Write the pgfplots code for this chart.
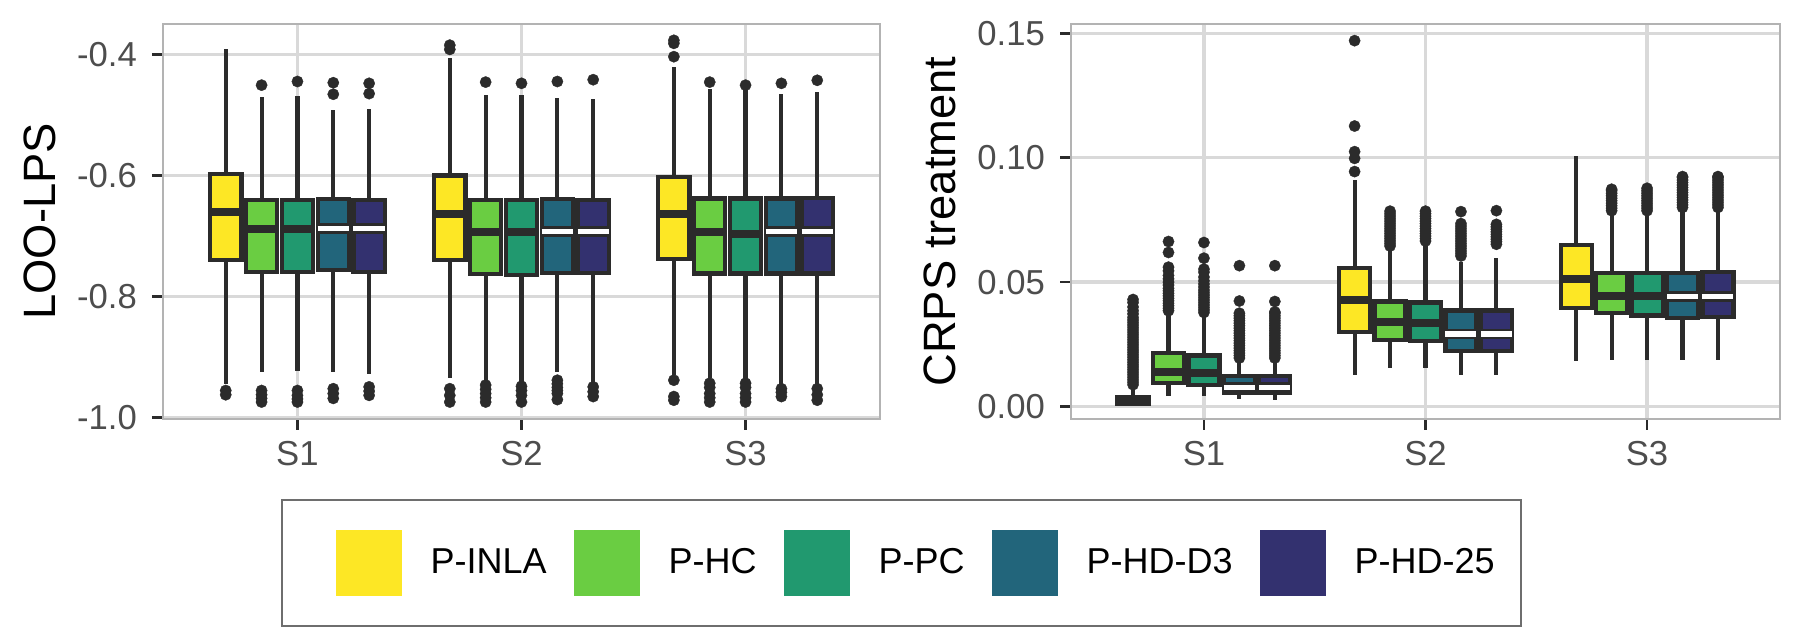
\documentclass[border=0pt]{standalone}
\usepackage{fontspec}
\setmainfont{Liberation Sans}
\usepackage{pgfplots}
\pgfplotsset{compat=1.18}
\usepgfplotslibrary{statistics}
\definecolor{cY}{HTML}{FDE725}
\definecolor{cG}{HTML}{6ACD42}
\definecolor{cT}{HTML}{21996F}
\definecolor{cB}{HTML}{22657B}
\definecolor{cP}{HTML}{33316F}
\definecolor{dk}{HTML}{2B2B2B}
\definecolor{grd}{HTML}{D9D9D9}
\definecolor{brd}{HTML}{B3B3B3}
\definecolor{tk}{HTML}{4D4D4D}
\definecolor{lg}{HTML}{6E6E6E}
\pgfplotsset{
  /pgf/number format/assume math mode=true,
  common/.style={scale only axis, anchor=south west, height=118.5pt,
    xmin=0.4, xmax=3.6, xtick={1,2,3}, xticklabels={S1,S2,S3},
    tick pos=left, tick align=outside, major tick length=3.3pt,
    grid=major, major grid style={draw=grd, line width=1pt},
    axis line style={draw=brd, line width=0.7pt},
    tick style={draw=dk, line width=0.8pt},
    tick label style={font=\fontsize{10.4}{12}\selectfont, text=tk},
    label style={font=\fontsize{13.6}{16}\selectfont, text=black},
    yticklabel style={xshift=-1pt}},
  bxs/.style={boxplot/draw direction=y, draw=dk, line width=1.25pt,
    mark=*, mark size=1.7pt, mark options={fill=dk, draw=dk, line width=0.1pt},
    boxplot/whisker extend=0, boxplot/box extend=0.14, forget plot,
    boxplot/every box/.style={fill=#1},
    boxplot/every median/.style={draw=dk, line width=2.4pt}},
  bxw/.style={bxs=#1,
    boxplot/every median/.style={draw=dk, double=white, double distance=1.6pt, line width=0.8pt}},
}
% #1 style, #2 position, #3 lower whisker, #4 lower quartile, #5 median, #6 upper quartile, #7 upper whisker, #8 outliers
\newcommand{\bx}[8]{%
  \addplot[#1, boxplot prepared={draw position=#2, lower whisker=#3, lower quartile=#4, median=#5, upper quartile=#6, upper whisker=#7}] table[row sep=\\, y index=0] {y\\ #8};
}
\begin{document}
\begin{tikzpicture}
\path[use as bounding box] (0,0) rectangle (540pt,189pt);
\begin{axis}[common, at={(48.9pt,63.3pt)}, width=215.1pt,
  ymin=-1.002, ymax=-0.350, ytick={-1,-0.8,-0.6,-0.4},
  yticklabel={\pgfmathprintnumber[fixed,fixed zerofill,precision=1]{\tick}},
  ylabel={LOO-LPS}, ylabel style={at={(axis description cs:-0.172,0.5)}, anchor=center},
  legend style={at={(1.0302,-0.3654)}, anchor=center, legend columns=5, draw=lg, line width=0.6pt,
    inner xsep=8pt, inner ysep=9pt, font=\fontsize{10.8}{13}\selectfont,
    nodes={inner xsep=0pt, inner ysep=0pt}, column sep=0pt},
  legend image code/.code={\path (-8pt,0) (28pt,0); \fill[#1, draw=none] (0pt,-9.9pt) rectangle (19.8pt,9.9pt);}
]
\addlegendimage{fill=cY}\addlegendentry{P-INLA}
\addlegendimage{fill=cG}\addlegendentry{P-HC}
\addlegendimage{fill=cT}\addlegendentry{P-PC}
\addlegendimage{fill=cB}\addlegendentry{P-HD-D3}
\addlegendimage{fill=cP}\addlegendentry{P-HD-25}
% S1
\bx{bxs=cY}{0.68}{-0.945}{-0.740}{-0.661}{-0.597}{-0.392}{-0.955\\ -0.962\\}
\bx{bxs=cG}{0.84}{-0.924}{-0.759}{-0.689}{-0.640}{-0.471}{-0.451\\ -0.955\\ -0.962\\ -0.968\\ -0.974\\}
\bx{bxs=cT}{1.00}{-0.923}{-0.760}{-0.689}{-0.641}{-0.469}{-0.445\\ -0.955\\ -0.963\\ -0.969\\ -0.974\\}
\bx{bxw=cB}{1.16}{-0.924}{-0.756}{-0.688}{-0.639}{-0.492}{-0.447\\ -0.466\\ -0.952\\ -0.960\\ -0.968\\}
\bx{bxw=cP}{1.32}{-0.927}{-0.759}{-0.688}{-0.640}{-0.490}{-0.448\\ -0.465\\ -0.949\\ -0.956\\ -0.963\\}
% S2
\bx{bxs=cY}{1.68}{-0.935}{-0.740}{-0.664}{-0.600}{-0.407}{-0.385\\ -0.392\\ -0.952\\ -0.963\\ -0.974\\}
\bx{bxs=cG}{1.84}{-0.941}{-0.763}{-0.693}{-0.641}{-0.468}{-0.446\\ -0.946\\ -0.953\\ -0.960\\ -0.967\\ -0.974\\}
\bx{bxs=cT}{2.00}{-0.941}{-0.764}{-0.693}{-0.641}{-0.468}{-0.448\\ -0.948\\ -0.955\\ -0.963\\ -0.974\\}
\bx{bxw=cB}{2.16}{-0.924}{-0.761}{-0.693}{-0.639}{-0.472}{-0.445\\ -0.938\\ -0.944\\ -0.950\\ -0.955\\ -0.960\\ -0.970\\}
\bx{bxw=cP}{2.32}{-0.941}{-0.761}{-0.693}{-0.640}{-0.474}{-0.442\\ -0.949\\ -0.957\\ -0.965\\}
% S3
\bx{bxs=cY}{2.68}{-0.930}{-0.738}{-0.664}{-0.603}{-0.421}{-0.377\\ -0.382\\ -0.404\\ -0.938\\ -0.965\\ -0.971\\}
\bx{bxs=cG}{2.84}{-0.935}{-0.762}{-0.693}{-0.638}{-0.458}{-0.446\\ -0.943\\ -0.950\\ -0.960\\ -0.967\\ -0.974\\}
\bx{bxs=cT}{3.00}{-0.941}{-0.762}{-0.696}{-0.638}{-0.458}{-0.451\\ -0.943\\ -0.950\\ -0.960\\ -0.967\\ -0.974\\}
\bx{bxw=cB}{3.16}{-0.944}{-0.762}{-0.693}{-0.638}{-0.466}{-0.448\\ -0.952\\ -0.958\\ -0.965\\}
\bx{bxw=cP}{3.32}{-0.946}{-0.762}{-0.693}{-0.637}{-0.463}{-0.443\\ -0.952\\ -0.962\\ -0.971\\}
\end{axis}
\begin{axis}[common, at={(321.3pt,63.3pt)}, width=212.7pt,
  ymin=-0.005, ymax=0.1537, ytick={0,0.05,0.1,0.15},
  yticklabel={\pgfmathprintnumber[fixed,fixed zerofill,precision=2]{\tick}},
  ylabel={CRPS treatment}, ylabel style={at={(axis description cs:-0.185,0.5)}, anchor=center}]
% S1
\bx{bxs=cY}{0.68}{0.0008}{0.0011}{0.0023}{0.0040}{0.0080}{0.0088\\ 0.0098\\ 0.0108\\ 0.0118\\ 0.0128\\ 0.0138\\ 0.0148\\ 0.0158\\ 0.0168\\ 0.0178\\ 0.0188\\ 0.0198\\ 0.0208\\ 0.0218\\ 0.0228\\ 0.0238\\ 0.0248\\ 0.0258\\ 0.0268\\ 0.0278\\ 0.0288\\ 0.0298\\ 0.0308\\ 0.0318\\ 0.0328\\ 0.0338\\ 0.0348\\ 0.0358\\ 0.0372\\ 0.0385\\ 0.0400\\ 0.0418\\ 0.0430\\}
\bx{bxs=cG}{0.84}{0.0043}{0.0094}{0.0140}{0.0214}{0.0375}{0.0385\\ 0.0395\\ 0.0405\\ 0.0415\\ 0.0425\\ 0.0435\\ 0.0445\\ 0.0455\\ 0.0465\\ 0.0475\\ 0.0488\\ 0.0500\\ 0.0513\\ 0.0527\\ 0.0545\\ 0.0560\\ 0.0619\\ 0.0663\\}
\bx{bxs=cT}{1.00}{0.0043}{0.0087}{0.0135}{0.0205}{0.0368}{0.0378\\ 0.0388\\ 0.0398\\ 0.0408\\ 0.0418\\ 0.0428\\ 0.0438\\ 0.0448\\ 0.0458\\ 0.0468\\ 0.0480\\ 0.0492\\ 0.0505\\ 0.0520\\ 0.0540\\ 0.0552\\ 0.0596\\ 0.0659\\}
\bx{bxw=cB}{1.16}{0.0031}{0.0056}{0.0077}{0.0123}{0.0187}{0.0195\\ 0.0205\\ 0.0215\\ 0.0225\\ 0.0235\\ 0.0245\\ 0.0255\\ 0.0265\\ 0.0275\\ 0.0285\\ 0.0295\\ 0.0305\\ 0.0315\\ 0.0325\\ 0.0335\\ 0.0345\\ 0.0355\\ 0.0365\\ 0.0375\\ 0.0424\\ 0.0566\\}
\bx{bxw=cP}{1.32}{0.0027}{0.0056}{0.0077}{0.0123}{0.0187}{0.0195\\ 0.0205\\ 0.0215\\ 0.0225\\ 0.0235\\ 0.0245\\ 0.0255\\ 0.0265\\ 0.0275\\ 0.0285\\ 0.0295\\ 0.0305\\ 0.0315\\ 0.0325\\ 0.0335\\ 0.0345\\ 0.0355\\ 0.0365\\ 0.0375\\ 0.0380\\ 0.0422\\ 0.0566\\}
% S2
\bx{bxs=cY}{1.68}{0.0127}{0.0299}{0.0428}{0.0558}{0.0910}{0.0944\\ 0.0997\\ 0.1024\\ 0.1127\\ 0.1470\\}
\bx{bxs=cG}{1.84}{0.0154}{0.0268}{0.0341}{0.0422}{0.0636}{0.0645\\ 0.0655\\ 0.0665\\ 0.0675\\ 0.0685\\ 0.0695\\ 0.0705\\ 0.0715\\ 0.0725\\ 0.0735\\ 0.0745\\ 0.0755\\ 0.0765\\ 0.0775\\ 0.0785\\}
\bx{bxs=cT}{2.00}{0.0154}{0.0264}{0.0337}{0.0418}{0.0656}{0.0665\\ 0.0675\\ 0.0685\\ 0.0695\\ 0.0705\\ 0.0715\\ 0.0725\\ 0.0735\\ 0.0745\\ 0.0755\\ 0.0765\\ 0.0775\\ 0.0785\\}
\bx{bxw=cB}{2.16}{0.0125}{0.0224}{0.0291}{0.0386}{0.0582}{0.0605\\ 0.0615\\ 0.0625\\ 0.0635\\ 0.0645\\ 0.0655\\ 0.0665\\ 0.0675\\ 0.0685\\ 0.0695\\ 0.0705\\ 0.0715\\ 0.0725\\ 0.0735\\ 0.0783\\}
\bx{bxw=cP}{2.32}{0.0125}{0.0224}{0.0291}{0.0386}{0.0596}{0.0652\\ 0.0662\\ 0.0672\\ 0.0682\\ 0.0692\\ 0.0702\\ 0.0712\\ 0.0722\\ 0.0732\\ 0.0787\\}
% S3
\addplot[bxs=cY, boxplot prepared={draw position=2.68, lower whisker=0.0183, lower quartile=0.0395, median=0.0511, upper quartile=0.0649, upper whisker=0.1007}] coordinates {};
\bx{bxs=cG}{2.84}{0.0187}{0.0375}{0.0446}{0.0538}{0.0777}{0.0787\\ 0.0797\\ 0.0807\\ 0.0817\\ 0.0827\\ 0.0837\\ 0.0847\\ 0.0857\\ 0.0867\\ 0.0873\\}
\bx{bxs=cT}{3.00}{0.0187}{0.0366}{0.0445}{0.0538}{0.0777}{0.0787\\ 0.0797\\ 0.0807\\ 0.0817\\ 0.0827\\ 0.0837\\ 0.0847\\ 0.0857\\ 0.0867\\ 0.0877\\}
\bx{bxw=cB}{3.16}{0.0185}{0.0355}{0.0442}{0.0538}{0.0790}{0.0800\\ 0.0810\\ 0.0820\\ 0.0830\\ 0.0840\\ 0.0850\\ 0.0860\\ 0.0870\\ 0.0880\\ 0.0890\\ 0.0900\\ 0.0910\\ 0.0920\\ 0.0924\\}
\bx{bxw=cP}{3.32}{0.0185}{0.0359}{0.0442}{0.0542}{0.0790}{0.0800\\ 0.0810\\ 0.0820\\ 0.0830\\ 0.0840\\ 0.0850\\ 0.0860\\ 0.0870\\ 0.0880\\ 0.0890\\ 0.0900\\ 0.0910\\ 0.0920\\ 0.0924\\}
\end{axis}
\end{tikzpicture}
\end{document}
